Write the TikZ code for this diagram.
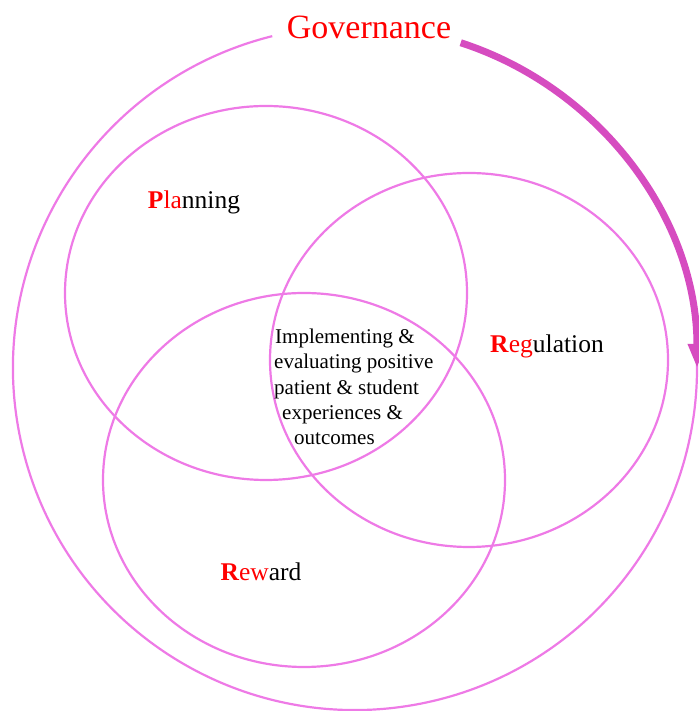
\documentclass[tikz,border=0pt]{standalone}
\usepackage{fontspec}
\setmainfont{Liberation Serif}
\usepackage{tikz}
\usetikzlibrary{arrows}
\usetikzlibrary{arrows.meta}
\usetikzlibrary{positioning}

\definecolor{ringpink}{RGB}{238,122,230}
\definecolor{arrowpink}{RGB}{214,76,192}

\begin{document}
\begin{tikzpicture}[x=1pt,y=1pt,>=latex,
    ring/.style={ringpink,line width=2.2pt},
    areatext/.style={font=\fontsize{25.5}{30}\selectfont,inner sep=0pt}]
    \useasboundingbox (0,0) rectangle (698,711);

    % Draw governance ring and arrow
    \draw [ring] (355,343) ++(104:342) arc (104:361:342);
    \draw [-{Triangle[length=24pt,width=17pt]},arrowpink,line width=7pt]
        (355,343) ++(72:342) arc (72:0:342);
    \node (gov) [font=\fontsize{34}{40}\selectfont,text=red] at (369,684) {Governance};

    % Draw the three areas
    \draw [ring] (266,418) ellipse [x radius=201, y radius=187];
    \draw [ring] (469,351) ellipse [x radius=199, y radius=187];
    \draw [ring] (304,231) ellipse [x radius=201, y radius=187];

    % area labels
    \node (plan) [areatext] at (194,509) {\textcolor{red}{\textbf{P}la}nning};
    \node (regul) [areatext] at (547,365) {\textcolor{red}{\textbf{R}eg}ulation};
    \node (reward) [areatext] at (261,139) {\textcolor{red}{\textbf{R}ew}ard};

    \node (core) [align=left,anchor=west,inner sep=0pt,font=\fontsize{21}{25.3}\selectfont] at (274,324)
        {\hspace*{1pt}Implementing \&\\evaluating positive\\patient \& student\\\hspace*{8pt}experiences \&\\\hspace*{20pt}outcomes};
\end{tikzpicture}
\end{document}
